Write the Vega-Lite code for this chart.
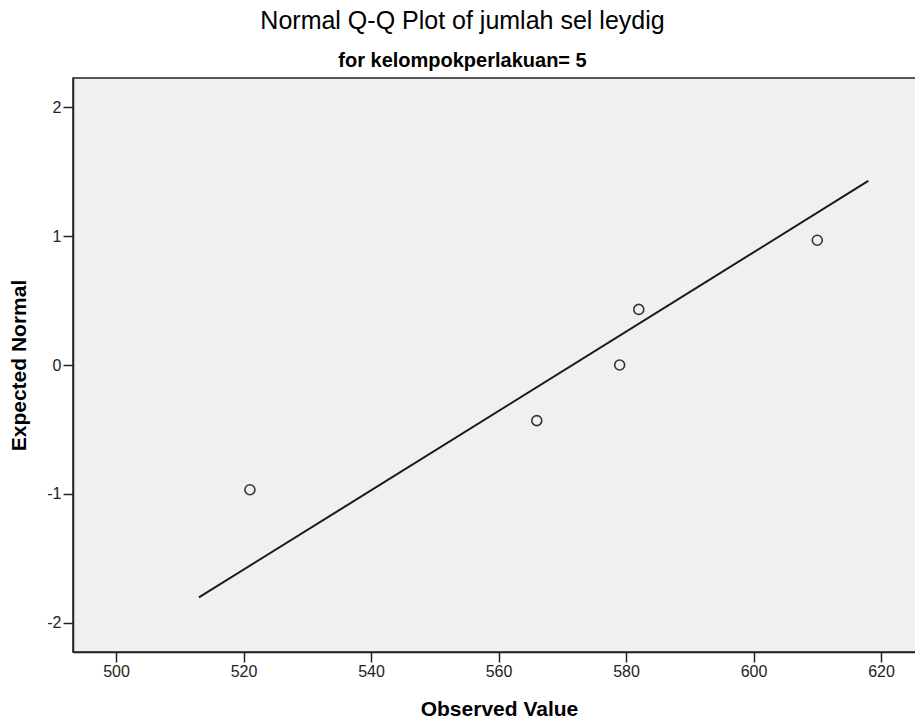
{
  "$schema": "https://vega.github.io/schema/vega-lite/v6.json",
  "autosize": "none",
  "width": 845,
  "height": 574,
  "padding": {"left": 73, "top": 78, "right": 0, "bottom": 72},
  "background": "white",
  "title": {
    "text": "Normal Q-Q Plot of jumlah sel leydig",
    "subtitle": "for kelompokperlakuan= 5",
    "anchor": "middle",
    "dx": -33,
    "font": "Liberation Sans",
    "fontSize": 25,
    "fontWeight": "normal",
    "color": "black",
    "subtitleFont": "Liberation Sans",
    "subtitleFontSize": 20,
    "subtitleFontWeight": "bold",
    "subtitleColor": "black",
    "subtitlePadding": 17,
    "offset": 7
  },
  "config": {
    "view": {"fill": "#f0f0f0", "stroke": "#222222", "strokeWidth": 1.5},
    "axis": {
      "grid": false,
      "domain": true,
      "domainColor": "#222222",
      "domainWidth": 1.5,
      "tickColor": "#222222",
      "tickWidth": 1.5,
      "tickSize": 10,
      "labelFont": "Liberation Sans",
      "labelFontSize": 16,
      "labelColor": "#222222",
      "titleFont": "Liberation Sans",
      "titleFontSize": 21,
      "titleFontWeight": "bold",
      "titleColor": "black"
    }
  },
  "datasets": {
    "points": [
      {"observed": 521, "expected": -0.967},
      {"observed": 566, "expected": -0.431},
      {"observed": 579, "expected": 0.0},
      {"observed": 582, "expected": 0.431},
      {"observed": 610, "expected": 0.967}
    ],
    "fit": [
      {"observed": 513, "expected": -1.802},
      {"observed": 618, "expected": 1.427}
    ]
  },
  "layer": [
    {
      "data": {"name": "fit"},
      "mark": {"type": "line", "color": "#1a1a1a", "strokeWidth": 2, "clip": true},
      "encoding": {
        "x": {"field": "observed", "type": "quantitative",
              "scale": {"domain": [493.25, 625.8], "nice": false, "zero": false},
              "axis": {"values": [500, 520, 540, 560, 580, 600, 620], "format": "d", "title": "Observed Value", "labelPadding": 1, "labelFontSize": 16, "titlePadding": 19, "titleX": 426}},
        "y": {"field": "expected", "type": "quantitative",
              "scale": {"domain": [-2.225, 2.225], "nice": false, "zero": false},
              "axis": {"values": [-2, -1, 0, 1, 2], "labelExpr": "datum.value < 0 ? '-' + abs(datum.value) : '' + datum.value", "title": "Expected Normal", "labelPadding": 2, "labelFontSize": 16, "titleX": -54, "titleY": 287, "titleAngle": -90, "titleAlign": "center", "titleBaseline": "middle"}}
      }
    },
    {
      "data": {"name": "points"},
      "mark": {"type": "point", "shape": "circle", "filled": false, "size": 100, "stroke": "#333333", "strokeWidth": 1.6, "opacity": 1},
      "encoding": {
        "x": {"field": "observed", "type": "quantitative"},
        "y": {"field": "expected", "type": "quantitative"}
      }
    }
  ]
}
